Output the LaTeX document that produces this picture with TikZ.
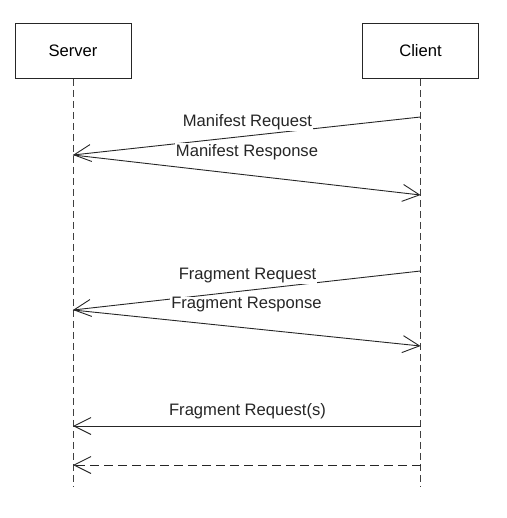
\documentclass[tikz,border=0pt]{standalone}
\usepackage{fontspec}
\setmainfont{Liberation Sans}
\usetikzlibrary{arrows.meta}
\begin{document}
\begin{tikzpicture}[x=1pt,y=-1pt,
  font=\fontsize{16.6}{19}\selectfont,
  actor/.style={draw=black!85, line width=0.9pt, minimum width=116pt, minimum height=55pt, inner sep=0pt},
  lifeline/.style={draw=black!75, line width=0.9pt, dash pattern=on 7pt off 4pt},
  msg/.style={draw=black!85, line width=0.9pt, -{Straight Barb[length=17pt,width=17pt,line width=0.9pt]}},
  ret/.style={msg, dash pattern=on 9pt off 5pt},
  lbl/.style={fill=white, inner sep=1pt, text=black!85}]
\useasboundingbox (0,0) rectangle (506,518);
\node[actor] (server) at (73,51) {Server};
\node[actor] (client) at (420.5,51) {Client};
\coordinate (sEnd) at (73,486);
\coordinate (cEnd) at (420.5,486);
\draw[lifeline] (server.south) -- (sEnd);
\draw[lifeline] (client.south) -- (cEnd);
% manifest
\coordinate (c1) at (420.5,117);
\coordinate (s1) at (73,155);
\coordinate (c2) at (420.5,195);
\draw[msg] (c1) -- (s1);
\draw[msg] (s1) -- (c2);
\node[lbl] (mreq) at (247.5,122) {Manifest Request};
\node[lbl] (mres) at (247,152) {Manifest Response};
% fragment
\coordinate (c3) at (420.5,271);
\coordinate (s3) at (73,310);
\coordinate (c4) at (420.5,346);
\draw[msg] (c3) -- (s3);
\draw[msg] (s3) -- (c4);
\node[lbl] (freq) at (247.5,276) {Fragment Request};
\node[lbl] (fres) at (246.5,305) {Fragment Response};
% fragment requests
\coordinate (c5) at (420.5,426);
\coordinate (s5) at (73,426);
\draw[msg] (c5) -- (s5);
\node[lbl, fill=none] (frs) at (247.5,411) {Fragment Request(s)};
\coordinate (c6) at (420.5,465);
\coordinate (s6) at (73,465);
\draw[ret] (c6) -- (s6);
\end{tikzpicture}
\end{document}
